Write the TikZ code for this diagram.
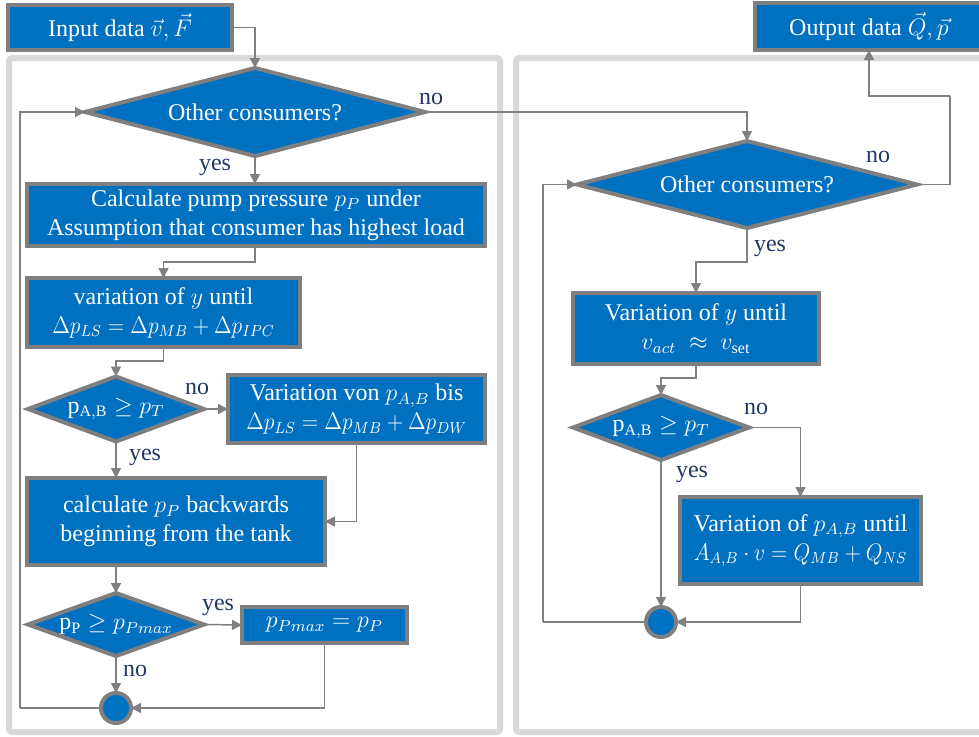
\documentclass[tikz,border=0pt]{standalone}
\usepackage{fontspec}
\setmainfont{Liberation Serif}
\usetikzlibrary{shapes.geometric,arrows.meta,calc}
\definecolor{boxblue}{HTML}{0070C0}
\definecolor{boxgray}{HTML}{7F7F7F}
\definecolor{contgray}{HTML}{D9D9D9}
\definecolor{linegray}{HTML}{808080}
\definecolor{lblnavy}{HTML}{1F3864}
\newcommand{\narrowmath}[1]{\scalebox{0.9}[1]{#1}}
\begin{document}
\begin{tikzpicture}[x=0.5pt,y=-0.5pt,
  every node/.style={font=\fontsize{12}{14.5}\selectfont},
  pbox/.style={rectangle,draw=boxgray,line width=2pt,fill=boxblue,text=white,align=center,inner sep=0pt,outer sep=0pt},
  pdia/.style={diamond,draw=boxgray,line width=2pt,fill=boxblue,text=white,inner sep=0pt,outer sep=0pt,aspect=1},
  pcirc/.style={circle,draw=boxgray,line width=2pt,fill=boxblue,inner sep=0pt,outer sep=0pt,minimum size=15pt},
  conn/.style={draw=linegray,line width=0.75pt,-{Triangle[length=5pt,width=5pt]}},
  plain/.style={draw=linegray,line width=0.75pt},
  lbl/.style={text=lblnavy,inner sep=0pt},
  cont/.style={draw=contgray,line width=3pt,rounded corners=1.5pt}
]
\useasboundingbox (0,0) rectangle (979,736);
% containers
\draw[cont] (9,58) rectangle (500,732);
\draw[cont] (516,58) rectangle (995,732);

% nodes left
\node[pbox,minimum width=112pt,minimum height=22.5pt] (in) at (120,27.5) {Input data $\vec{v},\vec{F}$};
\node[pbox,minimum width=114pt,minimum height=23.5pt] (out) at (869,26.5) {Output data $\vec{Q},\vec{p}$};
\node[pdia,minimum width=170pt,minimum height=44pt] (d1) at (255,112) {\makebox[0pt]{Other consumers?}};
\node[pbox,minimum width=229pt,minimum height=31pt] (c1) at (256,215) {Calculate pump pressure $p_P$ under\\Assumption that consumer has highest load};
\node[pbox,minimum width=136.5pt,minimum height=34.5pt] (var1) at (163.5,312.5) {variation of $y$ until\\\narrowmath{$\Delta p_{LS}=\Delta p_{MB}+\Delta p_{IPC}$}};
\node[pdia,minimum width=88pt,minimum height=32.5pt] (d2) at (116,409) {\makebox[0pt]{$\mathrm{p}_{\mathrm{A,B}}\geq p_T$}};
\node[pbox,minimum width=128.5pt,minimum height=34pt] (von) at (356.5,409) {Variation von $p_{A,B}$ bis\\\narrowmath{$\Delta p_{LS}=\Delta p_{MB}+\Delta p_{DW}$}};
\node[pbox,minimum width=149pt,minimum height=43.5pt] (back) at (176,521.5) {calculate $p_P$ backwards\\beginning from the tank};
\node[pdia,minimum width=88pt,minimum height=31.5pt] (d3) at (116,624.5) {\makebox[0pt]{\raisebox{-2pt}{$\mathrm{p}_{\mathrm{P}}\geq p_{Pmax}$}}};
\node[pbox,minimum width=82.5pt,minimum height=18pt] (pmax) at (324.5,625) {\raisebox{-3pt}{$p_{Pmax}=p_P$}};
\node[pcirc] (circ1) at (116,708) {};

% nodes right
\node[pdia,minimum width=170pt,minimum height=43.5pt] (d4) at (747,184.5) {\makebox[0pt]{Other consumers?}};
\node[pbox,minimum width=123pt,minimum height=35.5pt] (var2) at (696,328.5) {Variation of $y$ until\\$v_{act}\ \approx\ v_{\mathrm{set}}$};
\node[pdia,minimum width=88pt,minimum height=32.5pt] (d5) at (661,427.5) {\makebox[0pt]{$\mathrm{p}_{\mathrm{A,B}}\geq p_T$}};
\node[pbox,minimum width=120.5pt,minimum height=43.5pt] (var3) at (800.5,540.5) {Variation of $p_{A,B}$ until\\\narrowmath{$A_{A,B}\cdot v=Q_{MB}+Q_{NS}$}};
\node[pcirc] (circ2) at (661,622) {};

\coordinate (l1) at (20,708);
\coordinate (l2) at (543,622);
\coordinate (r1) at (950,96);

% connectors left
\draw[conn] (in.east) -| (d1.north);
\draw[conn] (d1.east) -| (d4.north);
\draw[conn] (d1.south) -- (d1.south |- c1.north);
\draw[conn] (c1.south -| d1.south) -- ++(0,16) -| (var1.north);
\draw[conn] (var1.south) -- ++(0,14) -| (d2.north);
\draw[conn] (d2.east) -- (von.west);
\draw[conn] (d2.south) -- (d2.south |- back.north);
\draw[conn] (von.south) |- (back.east);
\draw[conn] (back.south -| d3.north) -- (d3.north);
\draw[conn] (d3.east) -- (pmax.west);
\draw[conn] (d3.south) -- (circ1.north);
\draw[conn] (pmax.south) |- (circ1.east);
\draw[plain] (circ1.west) -- (l1);
\draw[conn] (l1) |- (d1.west);

% connectors right
\draw[plain] (d4.east) -| (r1);
\draw[conn] (r1) -| (out.south);
\draw[conn] (d4.south) -- ++(0,34) -| (var2.north);
\draw[conn] (var2.south) -- ++(0,14) -| (d5.north);
\draw[conn] (d5.east) -| (var3.north);
\draw[conn] (d5.south) -- (circ2.north);
\draw[conn] (var3.south) |- (circ2.east);
\draw[plain] (circ2.west) -- (l2);
\draw[conn] (l2) |- (d4.west);

% labels
\node[lbl] at (431,99) {no};
\node[lbl] at (215,167) {yes};
\node[lbl] at (197,389) {no};
\node[lbl] at (145,457) {yes};
\node[lbl] at (218,607) {yes};
\node[lbl] at (135,671) {no};
\node[lbl] at (878,157) {no};
\node[lbl] at (770,248) {yes};
\node[lbl] at (756,409) {no};
\node[lbl] at (692,474) {yes};
\end{tikzpicture}
\end{document}
